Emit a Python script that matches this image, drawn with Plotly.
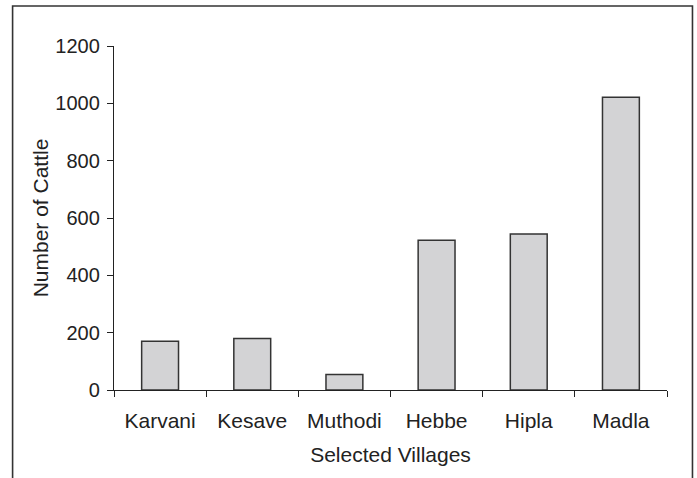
import plotly.graph_objects as go

villages = ["Karvani", "Kesave", "Muthodi", "Hebbe", "Hipla", "Madla"]
cattle = [170, 180, 54, 522, 544, 1021]
y_ticks = [0, 200, 400, 600, 800, 1000, 1200]

W, H = 697, 478
L, R, T, B = 113.5, 30, 46, 87.5
pw, ph = W - L - R, H - T - B

def px(x):
    return (x - L) / pw

def py(y):
    return (H - B - y) / ph

tick_font = dict(family="Liberation Sans, Arial, sans-serif", size=20, color="#222222")
lab_font = dict(family="Liberation Sans, Arial, sans-serif", size=21, color="#222222")

fig = go.Figure(go.Bar(
    x=villages, y=cattle,
    marker=dict(color="#d3d3d5", line=dict(color="#333333", width=1.5)),
    width=0.4,
))

fig.update_layout(
    width=W, height=H,
    margin=dict(l=L, r=R, t=T, b=B, pad=0),
    paper_bgcolor="white", plot_bgcolor="white",
    font=tick_font, showlegend=False,
    xaxis=dict(
        showline=True, linecolor="#222222", linewidth=1.3,
        ticks="outside", ticklen=6, tickcolor="#222222", tickwidth=1.3,
        tickson="boundaries", showgrid=False, zeroline=False,
        tickfont=lab_font, ticklabelstandoff=12,
        title=dict(text="Selected Villages", font=lab_font, standoff=15),
    ),
    yaxis=dict(
        range=[0, 1200], tickvals=y_ticks,
        showline=True, linecolor="#222222", linewidth=1.3,
        ticks="outside", ticklen=6, tickcolor="#222222", tickwidth=1.3,
        showgrid=False, zeroline=False, ticklabelstandoff=3,
        title=dict(text="Number of Cattle", font=lab_font, standoff=0),
    ),
    shapes=[dict(
        type="rect", xref="paper", yref="paper",
        x0=px(12), x1=px(692.5), y0=py(500), y1=py(6),
        line=dict(color="#333333", width=1.6), fillcolor="rgba(0,0,0,0)",
        layer="above",
    )],
)

fig.write_html(
    "out.html",
    config={"displayModeBar": False},
    post_script="document.body.style.margin='0px';",
)
